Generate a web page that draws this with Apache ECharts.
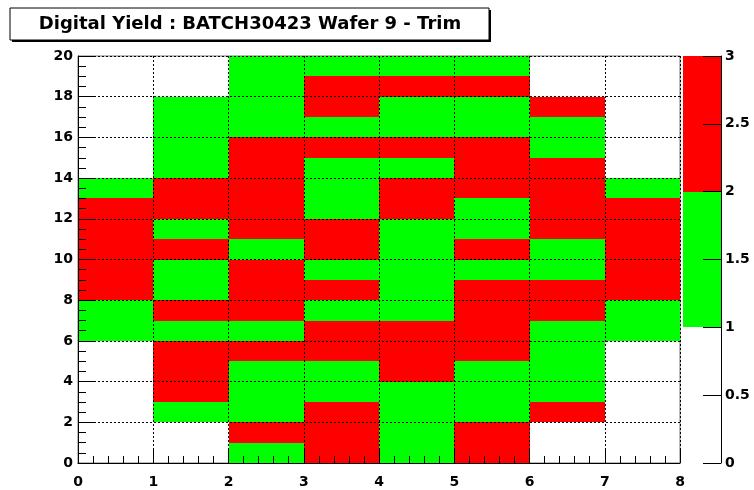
<!DOCTYPE html>
<html>
<head>
<meta charset="utf-8">
<script src="https://cdn.jsdelivr.net/npm/echarts@6/dist/echarts.min.js"></script>
<style>
  html, body { margin: 0; padding: 0; background: #fff; }
  #chart { width: 754px; height: 490px; }
</style>
</head>
<body>
<div id="chart"></div>
<script>
// bin contents per wafer column x=0..7, listed from y=0 up to y=19 (0 = empty bin)
const col0 = [0, 0, 0, 0, 0, 0, 1, 1, 2, 2, 2, 2, 2, 1, 0, 0, 0, 0, 0, 0];
const col1 = [0, 0, 1, 2, 2, 2, 1, 2, 1, 1, 2, 1, 2, 2, 1, 1, 1, 1, 0, 0];
const col2 = [1, 2, 1, 1, 1, 2, 1, 2, 2, 2, 1, 2, 2, 2, 2, 2, 1, 1, 1, 1];
const col3 = [2, 2, 2, 1, 1, 2, 2, 1, 2, 1, 2, 2, 1, 1, 1, 2, 1, 2, 2, 1];
const col4 = [1, 1, 1, 1, 2, 2, 2, 1, 1, 1, 1, 1, 2, 2, 1, 2, 1, 1, 2, 1];
const col5 = [2, 2, 1, 1, 1, 2, 2, 2, 2, 1, 2, 1, 1, 2, 2, 2, 1, 1, 2, 1];
const col6 = [0, 0, 2, 1, 1, 1, 1, 2, 2, 1, 1, 2, 2, 2, 2, 1, 1, 2, 0, 0];
const col7 = [0, 0, 0, 0, 0, 0, 1, 1, 2, 2, 2, 2, 2, 1, 0, 0, 0, 0, 0, 0];
const columns = [col0, col1, col2, col3, col4, col5, col6, col7];

// colour palette of the z axis: one colour per unit bin [0,1), [1,2), [2,3]
const zEdges = [0, 1, 2, 3];
const zColors = [null, '#00ff00', '#ff0000'];

const titleText = 'Digital Yield : BATCH30423 Wafer 9 - Trim';

// build the cells
const cells = [];
columns.forEach((col, x) => {
  col.forEach((v, y) => {
    if (v > 0) cells.push([x, y, v]);
  });
});
const paletteBins = [];
for (let i = 0; i < zEdges.length - 1; i++) {
  if (zColors[i]) paletteBins.push([zEdges[i], zEdges[i + 1], i]);
}

function colorOf(v) {
  let i = Math.floor(v - zEdges[0]);
  if (i > zColors.length - 1) i = zColors.length - 1;
  return zColors[i];
}

// rect between two pixel corners, snapped so neighbouring cells leave no seam
function cellRect(p0, p1, fill) {
  const x0 = Math.round(p0[0]), y0 = Math.round(p0[1]);
  const x1 = Math.round(p1[0]), y1 = Math.round(p1[1]);
  return {
    type: 'rect',
    shape: { x: x0, y: y0, width: x1 - x0, height: y1 - y0 },
    style: { fill: fill }
  };
}

const fontName = 'DejaVu Sans, Liberation Sans, sans-serif';
const labelFont = { color: '#000', fontFamily: fontName, fontWeight: 'bold', fontSize: 14 };
const dotted = { color: '#000', width: 1, type: [2, 2] };

const chart = echarts.init(document.getElementById('chart'));
chart.setOption({
  animation: false,
  backgroundColor: '#fff',
  graphic: [
    // title box with shadow
    { type: 'rect', z: 10, shape: { x: 12, y: 10, width: 479, height: 32 }, style: { fill: '#000' } },
    { type: 'rect', z: 11, shape: { x: 10, y: 8, width: 479, height: 32 }, style: { fill: '#fff', stroke: '#000', lineWidth: 1 } },
    {
      type: 'text', z: 12, x: 250, y: 24,
      style: {
        text: titleText, align: 'center', verticalAlign: 'middle',
        fontFamily: fontName, fontWeight: 'bold', fontSize: 18, fill: '#000'
      }
    }
  ],
  grid: [
    { left: 78, top: 56, width: 602, height: 407, show: true, borderColor: '#777', borderWidth: 1, backgroundColor: 'transparent' },
    { left: 683, top: 56, width: 38, height: 407 }
  ],
  xAxis: [
    {
      gridIndex: 0, type: 'value', min: 0, max: 8, interval: 1, z: 5,
      axisLine: { show: true, onZero: false, lineStyle: { color: '#000' } },
      axisTick: { show: true, inside: true, length: 13, lineStyle: { color: '#000' } },
      minorTick: { show: true, splitNumber: 5, length: 7, lineStyle: { color: '#000' } },
      axisLabel: Object.assign({ margin: 12 }, labelFont),
      splitLine: { show: true, lineStyle: dotted }
    },
    {
      gridIndex: 1, type: 'value', min: 0, max: 1, show: false
    }
  ],
  yAxis: [
    {
      gridIndex: 0, type: 'value', min: 0, max: 20, interval: 2, z: 5,
      axisLine: { show: true, onZero: false, lineStyle: { color: '#000' } },
      axisTick: { show: true, inside: true, length: 16, lineStyle: { color: '#000' } },
      minorTick: { show: true, splitNumber: 4, length: 8, lineStyle: { color: '#000' } },
      axisLabel: Object.assign({ margin: 5 }, labelFont),
      splitLine: { show: true, lineStyle: dotted }
    },
    {
      gridIndex: 1, type: 'value', min: 0, max: 3, interval: 0.5, position: 'right', z: 5,
      axisLine: { show: true, onZero: false, lineStyle: { color: '#000' } },
      axisTick: { show: true, inside: true, length: 18, lineStyle: { color: '#000' } },
      axisLabel: Object.assign({ margin: 4 }, labelFont),
      splitLine: { show: false }
    }
  ],
  series: [
    {
      type: 'custom',
      xAxisIndex: 0, yAxisIndex: 0,
      data: cells,
      renderItem: function (params, api) {
        const x = api.value(0), y = api.value(1);
        return cellRect(api.coord([x, y + 1]), api.coord([x + 1, y]), colorOf(api.value(2)));
      }
    },
    {
      type: 'custom',
      xAxisIndex: 1, yAxisIndex: 1,
      data: paletteBins,
      renderItem: function (params, api) {
        return cellRect(api.coord([0, api.value(1)]), api.coord([1, api.value(0)]), zColors[api.value(2)]);
      }
    }
  ]
});
</script>
</body>
</html>
